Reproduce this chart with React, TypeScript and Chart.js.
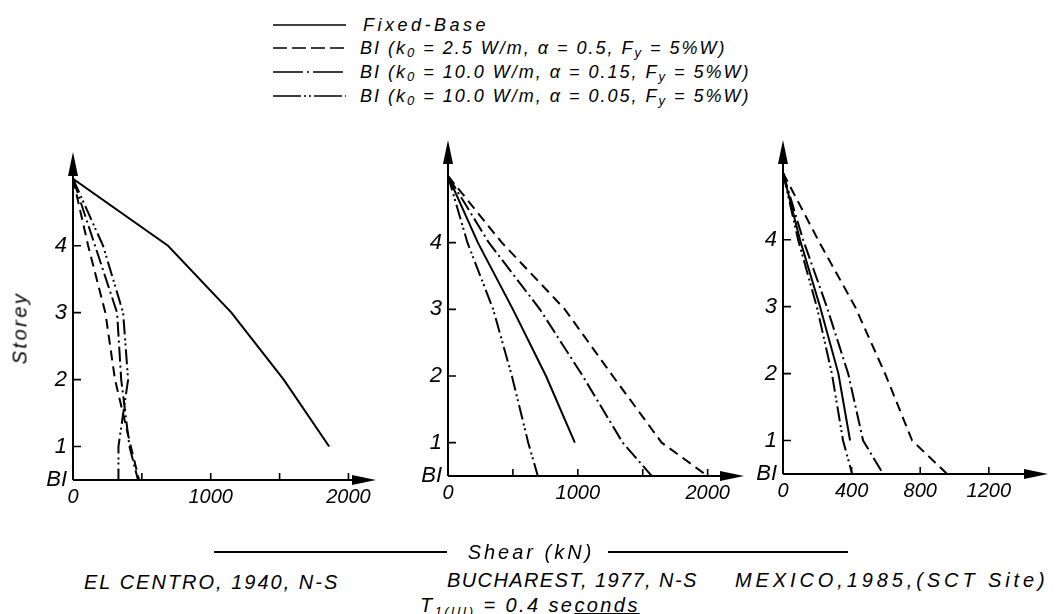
import React, { useEffect, useRef } from "react";
import { Chart, registerables } from "chart.js";

Chart.register(...registerables);

// ---------- data ----------
// storey levels (0.5 = base-isolation level "BI")
const storeyLevels = [5, 4, 3, 2, 1, 0.5];
const fixedBaseStoreys = [5, 4, 3, 2, 1];
const yTickValues = [0.5, 1, 2, 3, 4];
const yTickLabels = ["BI", "1", "2", "3", "4"];

const seriesNames = [
  "Fixed-Base",
  "BI (k0 = 2.5 W/m, α = 0.5, Fy = 5%W)",
  "BI (k0 = 10.0 W/m, α = 0.15, Fy = 5%W)",
  "BI (k0 = 10.0 W/m, α = 0.05, Fy = 5%W)",
];

// El Centro, 1940, N-S  (shear, kN)
const elCentroFixed = [0, 690, 1150, 1530, 1860];
const elCentroK25 = [0, 110, 235, 305, 420, 480];
const elCentroK10a15 = [0, 160, 320, 350, 410, 472];
const elCentroK10a05 = [0, 218, 364, 400, 330, 330];
const elCentroXTicks = [0, 500, 1000, 1500, 2000];
const elCentroXLabels = ["0", "", "1000", "", "2000"];

// Bucharest, 1977, N-S
const bucharestFixed = [0, 230, 500, 755, 977];
const bucharestK25 = [0, 415, 900, 1269, 1646, 2000];
const bucharestK10a15 = [0, 315, 708, 1038, 1346, 1569];
const bucharestK10a05 = [0, 150, 348, 492, 618, 692];
const bucharestXTicks = [0, 500, 1000, 1500, 2000];
const bucharestXLabels = ["0", "", "1000", "", "2000"];

// Mexico, 1985, (SCT Site)
const mexicoFixed = [0, 99, 216, 323, 391];
const mexicoK25 = [0, 204, 420, 595, 753, 957];
const mexicoK10a15 = [0, 117, 255, 380, 467, 584];
const mexicoK10a05 = [0, 88, 197, 285, 350, 403];
const mexicoXTicks = [0, 400, 800, 1200];
const mexicoXLabels = ["0", "400", "800", "1200"];

const panelCaptions = ["EL CENTRO, 1940, N-S", "BUCHAREST, 1977, N-S", "MEXICO,1985,(SCT Site)"];

// ---------- styles ----------
const dashPatterns: number[][] = [[], [10, 6], [15, 4, 2, 4], [15, 4, 2, 3, 2, 4]];
const legendDash = ["", "14 5", "30 4 2 4", "28 3 2 3 2 3"];
const FONT = "'Liberation Sans', Arial, sans-serif";

const axisPlugin = {
  id: "axisArrows",
  afterDraw(chart: any) {
    const { ctx, chartArea: a, scales } = chart;
    const xs = scales.x;
    const ys = scales.y;
    ctx.save();
    ctx.strokeStyle = "#000";
    ctx.fillStyle = "#000";
    ctx.lineWidth = 2;
    ctx.setLineDash([]);
    ctx.beginPath();
    ctx.moveTo(a.left, a.bottom);
    ctx.lineTo(a.right - 16, a.bottom);
    ctx.moveTo(a.left, a.bottom);
    ctx.lineTo(a.left, a.top + 16);
    ctx.stroke();
    // arrow heads
    ctx.beginPath();
    ctx.moveTo(a.right, a.bottom);
    ctx.lineTo(a.right - 24, a.bottom - 5);
    ctx.lineTo(a.right - 24, a.bottom + 5);
    ctx.closePath();
    ctx.fill();
    ctx.beginPath();
    ctx.moveTo(a.left, a.top);
    ctx.lineTo(a.left - 5, a.top + 24);
    ctx.lineTo(a.left + 5, a.top + 24);
    ctx.closePath();
    ctx.fill();
    // inside tick marks
    ctx.lineWidth = 1.6;
    ctx.beginPath();
    xs.ticks.forEach((t: any) => {
      if (t.value === 0) return;
      const px = xs.getPixelForValue(t.value);
      ctx.moveTo(px, a.bottom);
      ctx.lineTo(px, a.bottom - 7);
    });
    ys.ticks.forEach((t: any) => {
      if (t.value < 1) return;
      const py = ys.getPixelForValue(t.value);
      ctx.moveTo(a.left, py);
      ctx.lineTo(a.left + 8, py);
    });
    ctx.stroke();
    ctx.restore();
  },
};

type PanelProps = {
  left: number;
  top: number;
  width: number;
  height: number;
  yAxisWidth: number;
  xAxisHeight: number;
  padTop: number;
  padRight: number;
  xMax: number;
  yMax: number;
  xTicks: number[];
  xLabels: string[];
  fixed: number[];
  k25: number[];
  k10a15: number[];
  k10a05: number[];
};

function Panel(p: PanelProps) {
  const ref = useRef<HTMLCanvasElement | null>(null);
  useEffect(() => {
    if (!ref.current) return;
    const toPts = (levels: number[], vals: number[]) => vals.map((v, i) => ({ x: v, y: levels[i] }));
    const series = [
      toPts(fixedBaseStoreys, p.fixed),
      toPts(storeyLevels, p.k25),
      toPts(storeyLevels, p.k10a15),
      toPts(storeyLevels, p.k10a05),
    ];
    const chart = new Chart(ref.current, {
      type: "line",
      data: {
        datasets: series.map((d, i) => ({
          label: seriesNames[i],
          data: d,
          borderColor: "#000",
          backgroundColor: "#000",
          borderWidth: 2,
          borderDash: dashPatterns[i],
          pointRadius: 0,
          tension: 0,
          fill: false,
        })),
      },
      options: {
        responsive: false,
        animation: false,
        events: [],
        layout: { padding: { top: p.padTop, right: p.padRight, left: 0, bottom: 0 } },
        plugins: { legend: { display: false }, tooltip: { enabled: false } },
        scales: {
          x: {
            type: "linear",
            min: 0,
            max: p.xMax,
            grid: { display: false, drawTicks: false },
            border: { display: false },
            afterBuildTicks: (s: any) => {
              s.ticks = p.xTicks.map((v) => ({ value: v }));
            },
            afterFit: (s: any) => {
              s.height = p.xAxisHeight;
            },
            ticks: {
              autoSkip: false,
              maxRotation: 0,
              padding: 5,
              color: "#000",
              font: { family: FONT, size: 20, style: "italic" },
              callback: (_v: any, i: number) => p.xLabels[i] ?? "",
            },
          },
          y: {
            type: "linear",
            min: 0.5,
            max: p.yMax,
            grid: { display: false, drawTicks: false },
            border: { display: false },
            afterBuildTicks: (s: any) => {
              s.ticks = yTickValues.map((v) => ({ value: v }));
            },
            afterFit: (s: any) => {
              s.width = p.yAxisWidth;
            },
            ticks: {
              autoSkip: false,
              padding: 6,
              color: "#000",
              font: { family: FONT, size: 22, style: "italic" },
              callback: (_v: any, i: number) => yTickLabels[i] ?? "",
            },
          },
        },
      },
      plugins: [axisPlugin],
    } as any);
    return () => chart.destroy();
  }, []);
  return (
    <canvas
      ref={ref}
      width={p.width}
      height={p.height}
      style={{ position: "absolute", left: p.left, top: p.top, width: p.width, height: p.height }}
    />
  );
}

const textBase: React.CSSProperties = {
  position: "absolute",
  fontFamily: FONT,
  fontStyle: "italic",
  color: "#000",
  whiteSpace: "nowrap",
};

function LegendRow({ y, i, textX, children }: { y: number; i: number; textX: number; children: React.ReactNode }) {
  return (
    <>
      <svg style={{ position: "absolute", left: 273, top: y - 3 }} width={73} height={6}>
        <line x1={0} y1={3} x2={73} y2={3} stroke="#000" strokeWidth={1.6} strokeDasharray={legendDash[i]} />
      </svg>
      <div style={{ ...textBase, left: textX, top: y - 12, fontSize: 18, lineHeight: "24px", letterSpacing: 2 }}>
        {children}
      </div>
    </>
  );
}

export default function App() {
  const sub: React.CSSProperties = { fontSize: 13, verticalAlign: "-3px", lineHeight: 0 };
  return (
    <div style={{ position: "absolute", left: 0, top: 0, width: 1063, height: 614, background: "#fff", overflow: "hidden" }}>
      <LegendRow y={25} i={0} textX={363}>
        <span style={{ letterSpacing: 3.5 }}>Fixed-Base</span>
      </LegendRow>
      <LegendRow y={48} i={1} textX={360}>
        BI (k<span style={sub}>0</span> = 2.5 W/m, α = 0.5, F<span style={sub}>y</span> = 5%W)
      </LegendRow>
      <LegendRow y={72} i={2} textX={360}>
        BI (k<span style={sub}>0</span> = 10.0 W/m, α = 0.15, F<span style={sub}>y</span> = 5%W)
      </LegendRow>
      <LegendRow y={96} i={3} textX={360}>
        BI (k<span style={sub}>0</span> = 10.0 W/m, α = 0.05, F<span style={sub}>y</span> = 5%W)
      </LegendRow>

      <Panel
        left={0} top={130} width={400} height={400}
        yAxisWidth={73} xAxisHeight={50} padTop={22} padRight={24}
        xMax={2200} yMax={5.4}
        xTicks={elCentroXTicks} xLabels={elCentroXLabels}
        fixed={elCentroFixed} k25={elCentroK25} k10a15={elCentroK10a15} k10a05={elCentroK10a05}
      />
      <Panel
        left={380} top={120} width={380} height={410}
        yAxisWidth={68} xAxisHeight={54} padTop={20} padRight={16}
        xMax={2280} yMax={5.54}
        xTicks={bucharestXTicks} xLabels={bucharestXLabels}
        fixed={bucharestFixed} k25={bucharestK25} k10a15={bucharestK10a15} k10a05={bucharestK10a05}
      />
      <Panel
        left={715} top={120} width={348} height={410}
        yAxisWidth={68} xAxisHeight={56} padTop={20} padRight={15}
        xMax={1545} yMax={5.49}
        xTicks={mexicoXTicks} xLabels={mexicoXLabels}
        fixed={mexicoFixed} k25={mexicoK25} k10a15={mexicoK10a15} k10a05={mexicoK10a05}
      />

      <div
        style={{
          ...textBase,
          left: 20,
          top: 328,
          fontSize: 20,
          letterSpacing: 2.5,
          transform: "translate(-50%, -50%) rotate(-90deg)",
        }}
      >
        Storey
      </div>

      <div style={{ position: "absolute", left: 214, top: 551, width: 233, height: 2, background: "#000" }} />
      <div style={{ position: "absolute", left: 608, top: 551, width: 240, height: 2, background: "#000" }} />
      <div style={{ ...textBase, left: 531, top: 552, fontSize: 20, letterSpacing: 3, transform: "translate(-50%, -50%)" }}>
        Shear (kN)
      </div>

      <div style={{ ...textBase, left: 84, top: 570, fontSize: 20, lineHeight: "24px", letterSpacing: 2 }}>{panelCaptions[0]}</div>
      <div style={{ ...textBase, left: 447, top: 568, fontSize: 20, lineHeight: "24px", letterSpacing: 1.4 }}>{panelCaptions[1]}</div>
      <div style={{ ...textBase, left: 735, top: 568, fontSize: 20, lineHeight: "24px", letterSpacing: 3.9 }}>{panelCaptions[2]}</div>

      <div style={{ ...textBase, left: 420, top: 593, fontSize: 20, lineHeight: "24px", letterSpacing: 2.4 }}>
        T<span style={{ fontSize: 13, verticalAlign: "-4px", lineHeight: 0 }}>1(UI)</span> = 0.4 se
        <span style={{ textDecoration: "underline" }}>conds</span>
      </div>
    </div>
  );
}
